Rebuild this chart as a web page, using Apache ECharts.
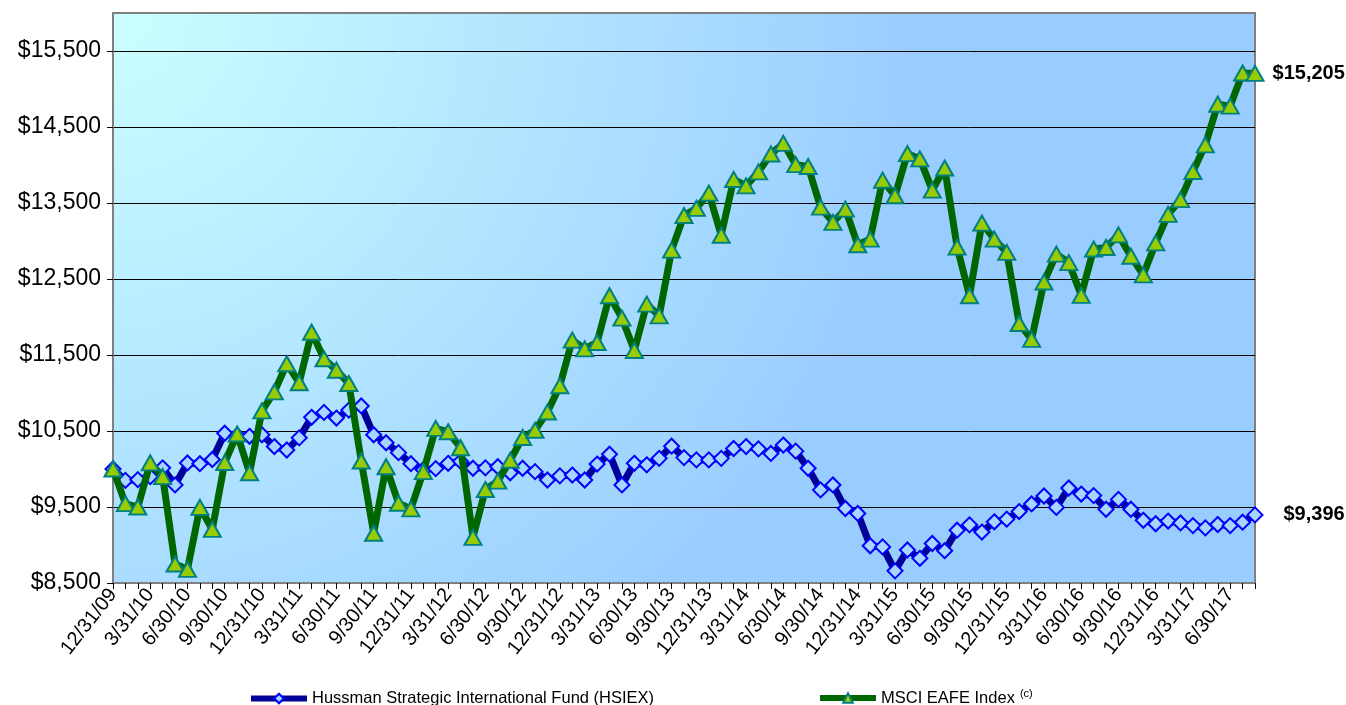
<!DOCTYPE html>
<html>
<head>
<meta charset="utf-8">
<title>Hussman Strategic International Fund vs MSCI EAFE Index</title>
<script src="https://cdn.jsdelivr.net/npm/echarts@6/dist/echarts.min.js"></script>
<style>
  html, body { margin: 0; padding: 0; background: #ffffff; }
  #chart { width: 1346px; height: 705px; }
</style>
</head>
<body>
<div id="chart"></div>
<script>
// Month-end valuation dates
const dates = [
  '12/31/09',
  '1/31/10','2/28/10','3/31/10','4/30/10','5/31/10','6/30/10','7/31/10','8/31/10','9/30/10','10/31/10','11/30/10','12/31/10',
  '1/31/11','2/28/11','3/31/11','4/30/11','5/31/11','6/30/11','7/31/11','8/31/11','9/30/11','10/31/11','11/30/11','12/31/11',
  '1/31/12','2/29/12','3/31/12','4/30/12','5/31/12','6/30/12','7/31/12','8/31/12','9/30/12','10/31/12','11/30/12','12/31/12',
  '1/31/13','2/28/13','3/31/13','4/30/13','5/31/13','6/30/13','7/31/13','8/31/13','9/30/13','10/31/13','11/30/13','12/31/13',
  '1/31/14','2/28/14','3/31/14','4/30/14','5/31/14','6/30/14','7/31/14','8/31/14','9/30/14','10/31/14','11/30/14','12/31/14',
  '1/31/15','2/28/15','3/31/15','4/30/15','5/31/15','6/30/15','7/31/15','8/31/15','9/30/15','10/31/15','11/30/15','12/31/15',
  '1/31/16','2/29/16','3/31/16','4/30/16','5/31/16','6/30/16','7/31/16','8/31/16','9/30/16','10/31/16','11/30/16','12/31/16',
  '1/31/17','2/28/17','3/31/17','4/30/17','5/31/17','6/30/17','7/31/17','8/31/17'
];

// Growth of $10,000 — Hussman Strategic International Fund (HSIEX)
const hsiex = [
  10000,
  9850, 9860, 9900, 10015, 9790, 10080, 10070, 10125, 10470, 10440, 10430, 10450,
  10295, 10250, 10410, 10680, 10745, 10670, 10775, 10830, 10450, 10345, 10215, 10070,
  9990, 10005, 10075, 10100, 10010, 10015, 10030, 9950, 10010, 9965, 9855, 9910,
  9920, 9855, 10065, 10195, 9790, 10075, 10055, 10140, 10300, 10150, 10120, 10120,
  10140, 10270, 10295, 10265, 10205, 10315, 10235, 10010, 9725, 9790, 9480, 9415,
  8990, 8975, 8660, 8935, 8825, 9020, 8925, 9195, 9265, 9170, 9305, 9340,
  9440, 9540, 9645, 9495, 9750, 9670, 9650, 9470, 9600, 9470, 9325, 9280,
  9315, 9290, 9255, 9225, 9270, 9255, 9300, 9396
];

// Growth of $10,000 — MSCI EAFE Index
const eafe = [
  10000,
  9545, 9500, 10080, 9900, 8750, 8680, 9495, 9205, 10085, 10460, 9950, 10765,
  11015, 11385, 11135, 11800, 11450, 11300, 11125, 10105, 9155, 10030, 9550, 9475,
  9965, 10535, 10490, 10280, 9100, 9730, 9840, 10115, 10415, 10510, 10750, 11095,
  11695, 11580, 11665, 12280, 11985, 11560, 12170, 12015, 12880, 13335, 13430, 13630,
  13075, 13810, 13725, 13910, 14145, 14285, 14005, 13980, 13445, 13245, 13420, 12950,
  13025, 13800, 13595, 14150, 14080, 13670, 13960, 12920, 12280, 13235, 13025, 12850,
  11915, 11705, 12460, 12828, 12715, 12285, 12895, 12915, 13080, 12800, 12555, 12975,
  13350, 13545, 13915, 14265, 14800, 14775, 15210, 15205
];

// Value axis range and labelled ticks
const yMin = 8500;
const yMax = 16000;
const yStep = 1000;
const yTicks = [8500, 9500, 10500, 11500, 12500, 13500, 14500, 15500];

const fundName = 'Hussman Strategic International Fund (HSIEX)';
const indexName = 'MSCI EAFE Index';

const FONT = '"Liberation Sans", Arial, Helvetica, sans-serif';
const money = v => '$' + Math.round(v).toLocaleString('en-US');

// Put a bold value label on the final point of a series
function withEndLabel(values, dx) {
  return values.map((v, i) => i === values.length - 1
    ? {
        value: v,
        label: {
          show: true,
          position: 'right',
          distance: dx,
          formatter: p => money(p.value),
          fontFamily: FONT,
          fontWeight: 'bold',
          fontSize: 20,
          color: '#000000'
        }
      }
    : v);
}

// Shared legend text styles; the index name carries a raised "(c)" note marker
const legendRich = {
  t: { fontFamily: FONT, fontSize: 16.5, color: '#000000', lineHeight: 20 },
  sup: { fontFamily: FONT, fontSize: 11, color: '#000000', lineHeight: 11, verticalAlign: 'top', padding: [0, 0, 0, 5] }
};

const chart = echarts.init(document.getElementById('chart'), null, { renderer: 'canvas' });

chart.setOption({
  animation: false,
  backgroundColor: '#ffffff',
  grid: {
    left: 113,
    right: 91,
    top: 13,
    bottom: 122,
    show: true,
    borderColor: '#808080',
    borderWidth: 2,
    backgroundColor: {
      type: 'radial',
      x: 0, y: 0, r: 1.45,
      colorStops: [
        { offset: 0, color: '#ccffff' },
        { offset: 1, color: '#99ccff' }
      ]
    }
  },
  legend: [
    {
      data: [fundName],
      left: 248,
      top: 690,
      padding: 0,
      itemWidth: 56,
      itemHeight: 12,
      lineStyle: { color: '#000099', width: 6 },
      formatter: name => '{t|' + name + '}',
      textStyle: { fontFamily: FONT, fontSize: 16.5, color: '#000000', rich: legendRich }
    },
    {
      data: [indexName],
      left: 817,
      top: 688,
      padding: 0,
      itemWidth: 56,
      itemHeight: 12,
      lineStyle: { color: '#006600', width: 6 },
      formatter: name => '{t|' + name + '}{sup|(c)}',
      textStyle: { fontFamily: FONT, fontSize: 16.5, color: '#000000', rich: legendRich }
    }
  ],
  xAxis: {
    type: 'category',
    data: dates,
    boundaryGap: false,
    axisLine: { show: true, lineStyle: { color: '#808080', width: 2 } },
    axisTick: { show: true, interval: 0, length: 6, lineStyle: { color: '#000000', width: 1 } },
    axisLabel: {
      interval: 2,
      rotate: 52,
      margin: 8,
      fontFamily: FONT,
      fontSize: 20,
      color: '#000000'
    },
    splitLine: { show: false }
  },
  yAxis: {
    type: 'value',
    min: yMin,
    max: yMax,
    interval: yStep,
    axisLine: { show: true, lineStyle: { color: '#808080', width: 2 } },
    axisTick: { show: true, length: 6, customValues: yTicks, lineStyle: { color: '#000000', width: 1 } },
    axisLabel: {
      margin: 12,
      fontFamily: FONT,
      fontSize: 23,
      color: '#000000',
      customValues: yTicks,
      formatter: v => money(v)
    },
    splitLine: { show: true, lineStyle: { color: '#000000', width: 1 } }
  },
  series: [
    {
      name: fundName,
      type: 'line',
      data: withEndLabel(hsiex, 20),
      showAllSymbol: true,
      symbol: 'diamond',
      symbolSize: [15, 15],
      lineStyle: { color: '#000099', width: 7 },
      itemStyle: { color: '#a6d6ff', borderColor: '#0000ff', borderWidth: 2 },
      z: 2
    },
    {
      name: indexName,
      type: 'line',
      data: withEndLabel(eafe, 8),
      showAllSymbol: true,
      symbol: 'triangle',
      symbolSize: [17, 15],
      lineStyle: { color: '#006600', width: 7 },
      itemStyle: { color: '#99cc00', borderColor: '#008080', borderWidth: 2 },
      z: 3
    }
  ]
});
</script>
</body>
</html>
